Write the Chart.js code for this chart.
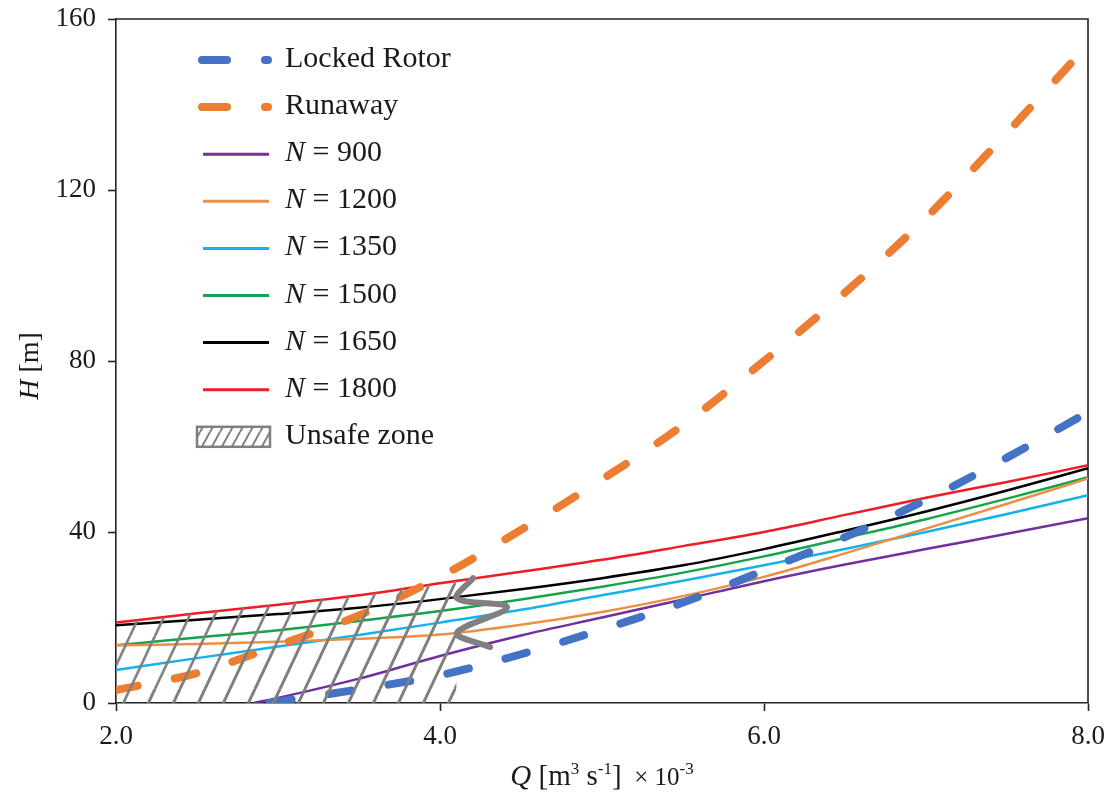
<!DOCTYPE html>
<html><head><meta charset="utf-8">
<script src="https://cdn.jsdelivr.net/npm/chart.js@4.4.1/dist/chart.umd.min.js"></script>
<style>html,body{margin:0;padding:0;background:#fff;}canvas{display:block;}</style>
</head><body>
<canvas id="c" width="1110" height="796"></canvas>
<script>
// ---- data ----
const gridQ   = [2.0, 2.5, 3.0, 3.5, 4.0, 4.5, 5.0, 5.5, 6.0, 6.5, 7.0, 7.5, 8.0];
const lockedQ = [2.95, 3.0, 3.5, 4.0, 4.5, 5.0, 5.5, 6.0, 6.5, 7.0, 7.5, 8.0];
const lockedH = [0, 0.3, 3.2, 6.5, 11.4, 17.2, 23.5, 31.0, 38.8, 47.5, 57.4, 68.0];
const runawayH = [3, 7, 13.5, 20.5, 29.5, 40.5, 52.3, 65, 80, 96, 113.5, 133.4, 154];
const n900Q  = [2.85, 3.0, 3.5, 4.0, 4.5, 5.0, 5.5, 6.0, 6.5, 7.0, 7.5, 8.0];
const n900H  = [0, 1.2, 5.7, 11.0, 15.8, 20.0, 24.2, 28.5, 32.4, 36.0, 39.6, 43.2];
const n1200H = [13.5, 13.8, 14.3, 15.0, 16.0, 18.3, 21.3, 25.0, 29.5, 35.0, 40.8, 46.6, 52.5];
const n1350H = [7.7, 10.5, 13.2, 15.9, 18.8, 21.8, 25.2, 28.6, 32.2, 36.0, 40.0, 44.2, 48.6];
const n1500H = [13.5, 15.3, 17.0, 19.2, 21.5, 24.2, 27.2, 30.5, 34.3, 38.6, 43.0, 47.8, 52.8];
const n1650H = [18.2, 19.5, 20.8, 22.3, 24.3, 26.6, 29.2, 32.2, 36.0, 40.3, 44.8, 49.7, 54.9];
const n1800H = [18.8, 21.0, 23.0, 25.2, 28.0, 30.7, 33.5, 36.7, 40.0, 44.0, 48.0, 51.7, 55.6];
const unsafeQ = [2.0, 2.5, 3.0, 3.5, 4.0, 4.2, 4.1];
const unsafeH = [18.8, 21.0, 23.0, 25.2, 28.0, 29.2, 0];
const breakQ = [4.204, 4.105, 4.414, 4.105, 4.309];
const breakH = [29.2, 24.5, 22.4, 16.4, 13.1];
const xTicks = [2, 4, 6, 8];
const yTicks = [0, 40, 80, 120, 160];
const xTickLabels = ['2.0', '4.0', '6.0', '8.0'];
const yTickLabels = ['0', '40', '80', '120', '160'];
const seriesLabels = ['Locked Rotor', 'Runaway', 'N = 900', 'N = 1200', 'N = 1350', 'N = 1500', 'N = 1650', 'N = 1800', 'Unsafe zone'];

const FAM = '"Liberation Serif", "Times New Roman", serif';
Chart.defaults.font.family = FAM;
const canvas = document.getElementById('c');
const ctx = canvas.getContext('2d');

function hatchPattern(w, h, lw, color, shift) {
  const c = document.createElement('canvas'); c.width = w; c.height = h;
  const g = c.getContext('2d');
  g.strokeStyle = color; g.lineWidth = lw;
  for (const dx of [-w, 0, w]) { g.beginPath(); g.moveTo(dx, h); g.lineTo(dx + w, 0); g.stroke(); }
  const p = ctx.createPattern(c, 'repeat');
  if (shift && p.setTransform) p.setTransform(new DOMMatrix([1, 0, 0, 1, shift, 0]));
  return p;
}
const zoneHatch = hatchPattern(25, 53, 2.6, '#7f7f7f', 4.9);
const legendHatch = hatchPattern(10, 18, 2, '#7f7f7f', 0);

const pts = (Q, H) => Q.map((q, i) => ({x: q, y: H[i]}));
const solid = (label, Q, H, color) => ({label, data: pts(Q, H), borderColor: color, backgroundColor: color,
  borderWidth: 2.5, cubicInterpolationMode: 'monotone', order: 3, clip: 0, kind: 'line'});
const dashed = (label, Q, H, color) => ({label, data: pts(Q, H), borderColor: color, backgroundColor: color,
  borderWidth: 8, borderDash: [22, 38], borderCapStyle: 'round', cubicInterpolationMode: 'monotone', order: 2, clip: 0, kind: 'dash'});

const datasets = [
  dashed(seriesLabels[0], lockedQ, lockedH, '#4472C4'),
  dashed(seriesLabels[1], gridQ, runawayH, '#ED7D31'),
  solid(seriesLabels[2], n900Q, n900H, '#7030A0'),
  solid(seriesLabels[3], gridQ, n1200H, '#EB8F45'),
  solid(seriesLabels[4], gridQ, n1350H, '#16B0EC'),
  solid(seriesLabels[5], gridQ, n1500H, '#16A34A'),
  solid(seriesLabels[6], gridQ, n1650H, '#000000'),
  solid(seriesLabels[7], gridQ, n1800H, '#EE1C25'),
  {label: seriesLabels[8], data: pts(unsafeQ, unsafeH), fill: 'origin', backgroundColor: zoneHatch,
   borderColor: 'rgba(0,0,0,0)', borderWidth: 0, tension: 0, order: 1, clip: 0, kind: 'zone'},
  {label: '', data: pts(breakQ, breakH), borderColor: '#808080', borderWidth: 6, tension: 0.35,
   borderCapStyle: 'round', borderJoinStyle: 'round', order: 0, clip: 20, kind: 'none'}
];

function drawRuns(c, runs, x, y, size, align) {
  const fontFor = r => `${r.it ? 'italic ' : ''}${Math.round(r.sup ? size * 0.6 : size * (r.scale || 1))}px ${FAM}`;
  let total = 0;
  for (const r of runs) { c.font = fontFor(r); total += c.measureText(r.t).width; }
  let cx = align === 'center' ? x - total / 2 : x;
  for (const r of runs) {
    c.font = fontFor(r);
    c.fillText(r.t, cx, r.sup ? y - size * 0.38 : y);
    cx += c.measureText(r.t).width;
  }
}
function labelRuns(s) {
  if (s.startsWith('N ')) return [{t: 'N', it: true}, {t: s.slice(1)}];
  return [{t: s}];
}

const decor = {
  id: 'decor',
  beforeDatasetsDraw(chart) {
    const {ctx: c, chartArea: a} = chart;
    c.save(); c.strokeStyle = '#222'; c.lineWidth = 1.6;
    c.beginPath(); c.moveTo(a.left, a.top); c.lineTo(a.right, a.top); c.lineTo(a.right, a.bottom); c.stroke();
    c.restore();
  },
  afterDraw(chart) {
    const {ctx: c, chartArea: a} = chart;
    c.save();
    c.fillStyle = '#1a1a1a'; c.textBaseline = 'alphabetic';
    // x title
    drawRuns(c, [{t: 'Q', it: true}, {t: ' [m'}, {t: '3', sup: true}, {t: ' s'}, {t: '-1', sup: true}, {t: ']'},
      {t: '  \u00d7 10', scale: 0.85}, {t: '-3', sup: true}], (a.left + a.right) / 2, 785, 29, 'center');
    // y title
    c.save(); c.translate(38, 366); c.rotate(-Math.PI / 2);
    drawRuns(c, [{t: 'H', it: true}, {t: ' [m]'}], 0, 0, 28, 'center');
    c.restore();
    // legend
    const x0 = a.left + 87, x1 = a.left + 152, tx = a.left + 169;
    const y0 = a.top + 41, dy = 47.1;
    let row = 0;
    chart.data.datasets.forEach(ds => {
      if (!ds.label) return;
      const y = y0 + row * dy; row++;
      c.save();
      if (ds.kind === 'zone') {
        c.fillStyle = legendHatch; c.fillRect(a.left + 81, y - 10, 73, 20);
        c.strokeStyle = '#7f7f7f'; c.lineWidth = 2.5; c.strokeRect(a.left + 81, y - 10, 73, 20);
      } else {
        c.strokeStyle = ds.borderColor;
        if (ds.kind === 'dash') { c.lineWidth = 8; c.lineCap = 'round'; c.setLineDash([25, 38]); }
        else { c.lineWidth = 3; c.lineCap = 'butt'; }
        c.beginPath(); c.moveTo(x0 - (ds.kind === 'dash' ? 1 : -0), y); c.lineTo(x1 + (ds.kind === 'dash' ? 0 : 1), y); c.stroke();
      }
      c.restore();
      c.fillStyle = '#1a1a1a';
      drawRuns(c, labelRuns(ds.label), tx, y + 7, 30, 'left');
    });
    c.restore();
  }
};

new Chart(ctx, {
  type: 'line',
  data: {datasets},
  options: {
    responsive: false, animation: false, devicePixelRatio: 1,
    layout: {padding: {top: 19, right: 22, left: 0, bottom: 0}},
    elements: {point: {radius: 0, hoverRadius: 0}},
    plugins: {legend: {display: false}, tooltip: {enabled: false}},
    scales: {
      x: {
        type: 'linear', min: 2, max: 8,
        afterBuildTicks: s => { s.ticks = xTicks.map(v => ({value: v})); },
        afterFit: s => { s.height = 93; s.paddingLeft = 0; s.paddingRight = 0; },
        ticks: {callback: (v) => xTickLabels[xTicks.indexOf(v)], font: {size: 27, family: FAM}, color: '#1a1a1a', padding: 10, maxRotation: 0},
        grid: {drawOnChartArea: false, drawTicks: true, tickLength: 8, tickColor: '#222', tickWidth: 1.6},
        border: {display: true, color: '#222', width: 1.6}
      },
      y: {
        type: 'linear', min: 0, max: 160,
        afterBuildTicks: s => { s.ticks = yTicks.map(v => ({value: v})); },
        afterFit: s => { s.width = 116; s.paddingTop = 0; s.paddingBottom = 0; },
        ticks: {callback: (v) => yTickLabels[yTicks.indexOf(v)], font: {size: 27, family: FAM}, color: '#1a1a1a', padding: 12},
        grid: {drawOnChartArea: false, drawTicks: true, tickLength: 8, tickColor: '#222', tickWidth: 1.6},
        border: {display: true, color: '#222', width: 1.6}
      }
    }
  },
  plugins: [decor]
});
</script>
</body></html>
